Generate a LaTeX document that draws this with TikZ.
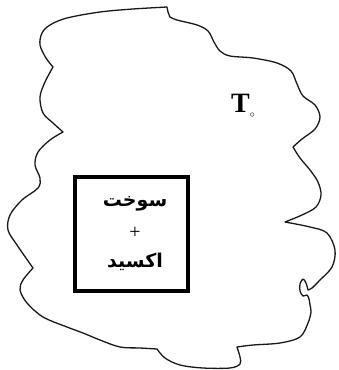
\documentclass[tikz,border=0pt]{standalone}
\usepackage{fontspec}
\setmainfont{Liberation Serif}
\newfontfamily\arabicfont[Script=Arabic]{DejaVu Sans}
\TeXXeTstate=1
\tikzset{
  outline/.style={line width=1.3pt, line join=round, black!90},
  chamber/.style={draw, line width=3.3pt, minimum width=113pt, minimum height=114pt, inner sep=0pt},
  artext/.style={inner sep=0pt, font=\arabicfont\bfseries\fontsize{19}{22}\selectfont},
  smo/.style={smooth, tension=0.55}
}
\begin{document}
\begin{tikzpicture}[x=1pt, y=-1pt]
\useasboundingbox (0,0) rectangle (338,370);
\draw[outline]
  plot[smo] coordinates {(53,67) (46,58) (40,45) (42,33) (50,25) (67,18) (100,12) (133,9) (167,7)}
  -- plot[smo] coordinates {(167,7) (168,12) (170,17)}
  -- plot[smo] coordinates {(170,17) (177,20) (197,25) (208,31) (214,42) (220,51) (230,56) (253,58) (277,63) (291,71) (297,84) (303,96) (315,105) (320,117) (315,129) (302,139) (293,147)}
  -- plot[smo] coordinates {(293,147) (300,158) (310,170) (318,182) (321,195) (316,207) (302,215) (285,222)}
  -- plot[smo] coordinates {(285,222) (310,227) (327,233) (335,250) (332,267) (320,280) (312,288) (308,290)}
  -- plot[smo] coordinates {(308,290) (306,283) (303,279) (300,284) (300,291) (303,296) (307,295) (309,299) (310,305) (311,312) (308,323) (300,337) (280,343) (253,345) (237,347)}
  -- plot[smo] coordinates {(237,347) (240,357) (240,364) (230,368) (203,368) (180,365) (165,358) (157,349)}
  -- plot[smo] coordinates {(157,349) (140,348) (120,347) (100,340) (83,333) (67,327) (43,317) (27,303) (20,290) (23,280) (33,268)}
  -- plot[smo] coordinates {(33,268) (17,245) (8,230) (10,215) (22,200) (38,188) (40,178) (35,165) (38,152) (50,140) (63,132)}
  -- plot[smo] coordinates {(63,132) (53,123) (43,113) (40,97) (45,82) (53,67)}
  -- cycle;
\node[chamber] (box) at (131.5,234) {};
\node[artext] (fuel) at (135,204) {\beginR سوخت\endR};
\node[inner sep=0pt, font=\fontsize{20}{22}\selectfont] (plus) at (135,233) {+};
\node[artext] (oxid) at (135,262) {\beginR اکسید\endR};
\node[inner sep=0pt, anchor=base west] (temp) at (231,112) {\fontsize{28}{30}\selectfont\textbf{T}\raisebox{-5pt}{\fontsize{10}{10}\selectfont$\circ$}};
\end{tikzpicture}
\end{document}
